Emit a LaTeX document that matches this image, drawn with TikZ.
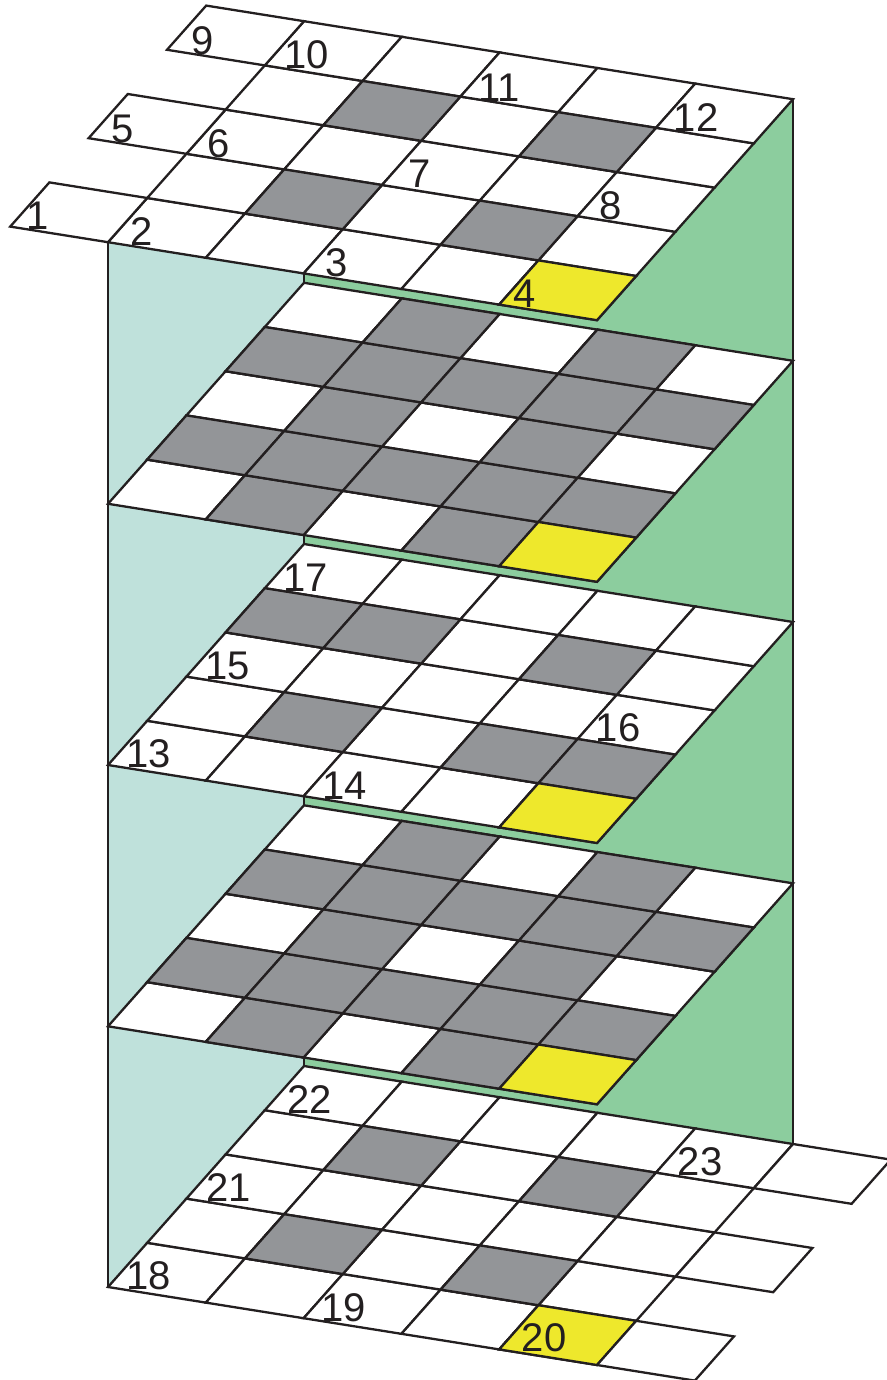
\documentclass[tikz,border=0pt]{standalone}
\usepackage{fontspec}
\setmainfont{Liberation Sans}
\definecolor{ink}{HTML}{231F20}
\definecolor{wallteal}{HTML}{BFE1DB}
\definecolor{wallgreen}{HTML}{8CCD9E}
\definecolor{celldark}{HTML}{939598}
\definecolor{cellyellow}{HTML}{EEE82C}
\tikzset{
  cellbox/.style={draw=ink,line width=2.3pt,line join=miter,miter limit=4},
  walledge/.style={draw=ink,line width=1.6pt},
  numlabel/.style={inner sep=0pt,text=ink,font=\fontsize{40}{40}\selectfont},
}
% \gridcell{front-left y of layer}{column}{row}{fill}
\newcommand{\gridcell}[4]{%
  \pgfmathsetmacro{\xa}{108+97.8*(#2)+39.2*(#3)}%
  \pgfmathsetmacro{\ya}{#1+15.6*(#2)-44.2*(#3)}%
  \draw[cellbox,fill=#4] (\xa,\ya) -- ++(97.8,15.6) -- ++(39.2,-44.2) -- ++(-97.8,-15.6) -- cycle;%
}
% \gridlayer{y}: all white cells
\newcommand{\gridlayer}[1]{%
  \foreach \cc in {0,...,4}{\foreach \rr in {0,...,4}{\gridcell{#1}{\cc}{\rr}{white}}}%
}
\newcommand{\fullpattern}[1]{%
  \gridlayer{#1}%
  \foreach \cc/\rr in {1/0,3/0,0/1,1/1,2/1,3/1,4/1,1/2,3/2,0/3,1/3,2/3,3/3,4/3,1/4,3/4}{\gridcell{#1}{\cc}{\rr}{celldark}}%
  \gridcell{#1}{4}{0}{cellyellow}%
}
\newcommand{\sparsepattern}[1]{%
  \gridlayer{#1}%
  \foreach \cc/\rr in {1/1,3/1,1/3,3/3}{\gridcell{#1}{\cc}{\rr}{celldark}}%
  \gridcell{#1}{4}{0}{cellyellow}%
}
\begin{document}
\begin{tikzpicture}[x=1pt,y=-1pt]
\useasboundingbox (0,0) rectangle (886,1380);
% walls
\fill[wallteal] (108,242) -- (304,21) -- (304,1066) -- (108,1287) -- cycle;
\fill[wallgreen] (304,21) -- (793,99) -- (793,1144) -- (304,1066) -- cycle;
\draw[walledge] (108,242) -- (108,1287);
\draw[walledge] (304,21) -- (304,1066);
\draw[walledge] (793,99) -- (793,1144);
% layers
\sparsepattern{242.2}
\foreach \rr in {0,2,4}{\gridcell{242.2}{-1}{\rr}{white}}
\fullpattern{503.8}
\gridlayer{765}
\foreach \cc/\rr in {1/1,3/1,4/1,0/3,1/3,3/3}{\gridcell{765}{\cc}{\rr}{celldark}}
\gridcell{765}{4}{0}{cellyellow}
\fullpattern{1026.3}
\sparsepattern{1287}
\foreach \rr in {0,2,4}{\gridcell{1287}{5}{\rr}{white}}
% labels
\foreach \n/\px/\py in {1/38/216,2/142/232,3/337/263,4/525/294,5/123/129,6/219/144,7/420/174,8/611/206,9/203/41,10/307/55,11/499/88,12/696/118,13/149/754,14/345/786,15/228/666,16/618/728,17/306/578,18/149/1276,19/344/1308,20/544/1338,21/229/1188,22/310/1100,23/700/1162}{
  \node[numlabel] (n\n) at (\px,\py) {\n};
}
\end{tikzpicture}
\end{document}
